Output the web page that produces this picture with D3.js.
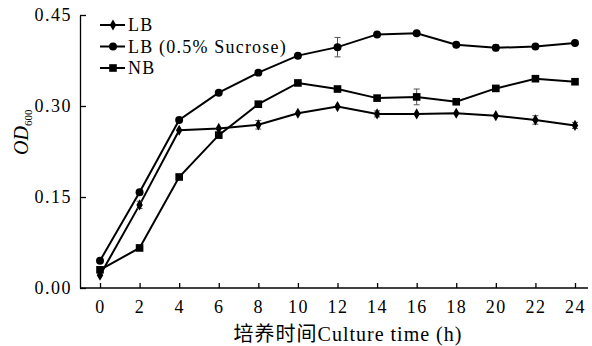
<!DOCTYPE html>
<html>
<head>
<meta charset="utf-8">
<script src="https://cdn.jsdelivr.net/npm/d3@7"></script>
<style>
  body { margin: 0; background: #fff; }
  svg text { font-family: "Liberation Serif", "Noto Sans CJK SC", serif; fill: #000; }
</style>
</head>
<body>
<svg></svg>
<script>
const width = 592;
const height = 346;

// culture time (h)
const hours = [0, 2, 4, 6, 8, 10, 12, 14, 16, 18, 20, 22, 24];
const lbValues = [0.021, 0.137, 0.260, 0.263, 0.269, 0.288, 0.299, 0.287, 0.287, 0.288, 0.284, 0.277, 0.268];
const lbErrors = [0.002, 0.006, 0.002, 0.002, 0.007, 0.002, 0.002, 0.005, 0.002, 0.002, 0.002, 0.007, 0.005];
const sucroseValues = [0.045, 0.158, 0.277, 0.322, 0.355, 0.383, 0.397, 0.418, 0.420, 0.401, 0.396, 0.398, 0.404];
const sucroseErrors = [0.002, 0.002, 0.002, 0.002, 0.002, 0.002, 0.016, 0.002, 0.002, 0.002, 0.005, 0.002, 0.002];
const nbValues = [0.030, 0.066, 0.183, 0.252, 0.303, 0.338, 0.328, 0.313, 0.315, 0.307, 0.329, 0.345, 0.340];
const nbErrors = [0.002, 0.002, 0.002, 0.002, 0.002, 0.002, 0.002, 0.002, 0.013, 0.002, 0.002, 0.002, 0.002];
const yTicks = [0, 0.15, 0.30, 0.45];
const seriesNames = ["LB", "LB (0.5% Sucrose)", "NB"];

const series = [
  { name: seriesNames[0], values: lbValues, errors: lbErrors, symbol: d3.symbolDiamond, size: 36 },
  { name: seriesNames[1], values: sucroseValues, errors: sucroseErrors, symbol: d3.symbolCircle, size: 50 },
  { name: seriesNames[2], values: nbValues, errors: nbErrors, symbol: d3.symbolSquare, size: 58 }
];

const serif = '"Liberation Serif", "Noto Sans CJK SC", serif';

const svg = d3.select('svg')
    .attr('width', width).attr('height', height);

const x = d3.scaleLinear().domain([0, 24]).range([100, 575]);
const y = d3.scaleLinear().domain([0, 0.45]).range([288, 15]);

// axes
const xAxis = svg.append('g')
    .attr('transform', 'translate(0,288)')
    .call(d3.axisBottom(x).tickValues(hours).tickSizeInner(-5).tickSizeOuter(0).tickPadding(12));
xAxis.select('.domain').attr('d', 'M80,0H588');

const yAxis = svg.append('g')
    .attr('transform', 'translate(80,0)')
    .call(d3.axisLeft(y).tickValues(yTicks).tickFormat(d3.format('.2f')).tickSizeInner(-6).tickSizeOuter(0).tickPadding(8));

svg.selectAll('.tick text')
    .attr('font-family', serif)
    .style('font-family', serif)
    .style('font-size', '18px')
    .style('letter-spacing', '1.5px');
svg.selectAll('.domain, .tick line').attr('stroke', '#000').attr('stroke-width', 1.3);

// lines, error bars, markers
const line = d3.line()
    .x((d, i) => x(hours[i]))
    .y(d => y(d));

series.forEach(s => {
  svg.append('path')
      .datum(s.values)
      .attr('d', line)
      .attr('fill', 'none')
      .attr('stroke', '#000')
      .attr('stroke-width', 2);

  const err = svg.append('g');
  s.values.forEach((v, i) => {
    if (s.errors[i] < 0.004) return;
    const cx = x(hours[i]);
    err.append('path')
        .attr('d', `M${cx},${y(v + s.errors[i])}V${y(v - s.errors[i])}M${cx - 3},${y(v + s.errors[i])}h6M${cx - 3},${y(v - s.errors[i])}h6`)
        .attr('stroke', '#555')
        .attr('stroke-width', 1)
        .attr('fill', 'none');
  });

  svg.append('g').selectAll('path')
      .data(s.values)
      .enter().append('path')
      .attr('transform', (d, i) => `translate(${x(hours[i])},${y(d)})`)
      .attr('d', d3.symbol().type(s.symbol).size(s.size))
      .attr('fill', '#000');
});

// legend
const legend = svg.append('g');
series.forEach((s, i) => {
  const ly = 25 + i * 21.5;
  legend.append('line')
      .attr('x1', 100).attr('x2', 125)
      .attr('y1', ly).attr('y2', ly)
      .attr('stroke', '#000').attr('stroke-width', 2);
  legend.append('path')
      .attr('transform', `translate(113,${ly})`)
      .attr('d', d3.symbol().type(s.symbol).size(s.size))
      .attr('fill', '#000');
  legend.append('text')
      .attr('x', 128).attr('y', ly + 6)
      .style('font-family', serif)
      .style('font-size', '18px')
      .style('letter-spacing', '1.2px')
      .text(s.name);
});

// axis titles
svg.append('text')
    .attr('x', 348).attr('y', 341)
    .attr('text-anchor', 'middle')
    .style('font-family', serif)
    .style('font-size', '20px')
    .style('letter-spacing', '1px')
    .text('培养时间Culture time (h)');

const yTitle = svg.append('text')
    .attr('transform', 'translate(28,155) rotate(-90)')
    .style('font-family', serif)
    .style('font-size', '20px')
    .style('font-style', 'italic');
yTitle.append('tspan').text('OD');
yTitle.append('tspan')
    .attr('dy', 4)
    .style('font-size', '11px')
    .style('font-style', 'normal')
    .text('600');
</script>
</body>
</html>
